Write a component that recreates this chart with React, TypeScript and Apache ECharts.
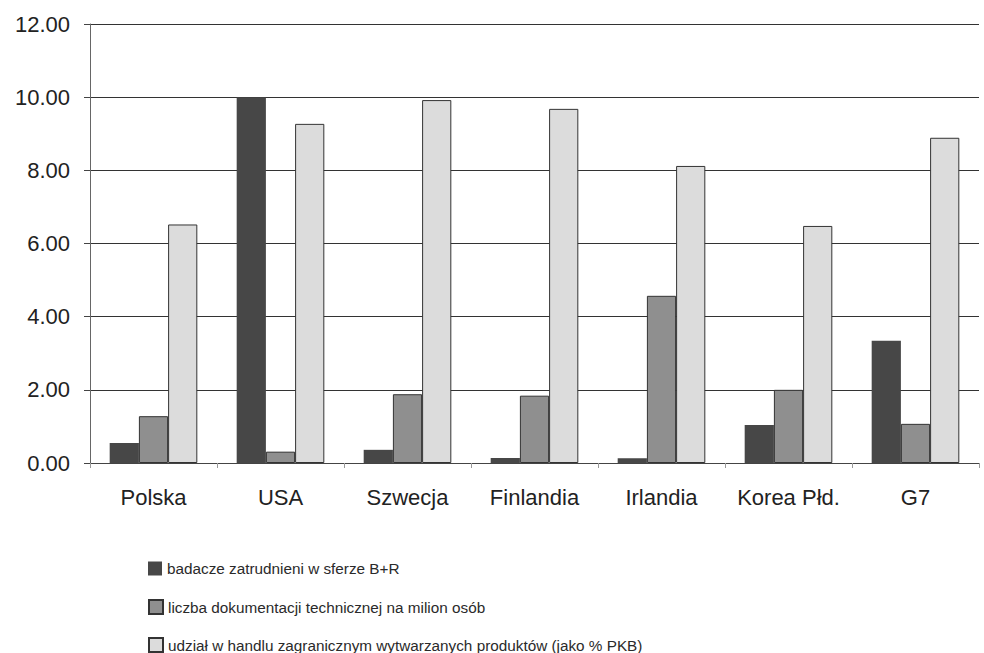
import React, { useEffect, useRef } from "react";
import * as echarts from "echarts";

const categories = ["Polska", "USA", "Szwecja", "Finlandia", "Irlandia", "Korea Płd.", "G7"];
const seriesNames = [
  "badacze zatrudnieni w sferze B+R",
  "liczba dokumentacji technicznej na milion osób",
  "udział w handlu zagranicznym wytwarzanych produktów (jako % PKB)",
];
const researchers = [0.55, 10.0, 0.36, 0.14, 0.13, 1.04, 3.34];
const patents = [1.28, 0.31, 1.88, 1.84, 4.57, 2.0, 1.07];
const tradeShare = [6.52, 9.27, 9.92, 9.68, 8.12, 6.48, 8.89];

export default function App() {
  const ref = useRef<HTMLDivElement>(null);
  useEffect(() => {
    if (!ref.current) return;
    const chart = echarts.init(ref.current, undefined, { renderer: "svg" });
    const font = "'Liberation Sans', Arial, sans-serif";
    const colors = ["#474747", "#8f8f8f", "#dcdcdc"];
    const values = [researchers, patents, tradeShare];
    const legendTops = [556, 594, 632];
    chart.setOption({
      animation: false,
      backgroundColor: "#ffffff",
      grid: { left: 90, right: 5, top: 24, bottom: 190, containLabel: false },
      legend: seriesNames.map((name, i) => ({
        orient: "vertical",
        left: 143,
        top: legendTops[i],
        itemWidth: 14,
        itemHeight: 14,
        icon: "rect",
        textStyle: { fontFamily: font, fontSize: 15.3, color: "#2a2a2a" },
        data: [name],
      })),
      xAxis: {
        type: "category",
        data: categories,
        axisLine: { show: true, lineStyle: { color: "#444", width: 1 } },
        axisTick: { show: true, length: 5, lineStyle: { color: "#999" } },
        axisLabel: { fontFamily: font, fontSize: 22, color: "#222", margin: 23, interval: 0 },
      },
      yAxis: {
        type: "value",
        min: 0,
        max: 12,
        interval: 2,
        axisLine: { show: true, lineStyle: { color: "#666", width: 1 } },
        axisTick: { show: true, length: 6, lineStyle: { color: "#444" } },
        axisLabel: {
          fontFamily: font,
          fontSize: 22,
          color: "#222",
          margin: 20,
          formatter: (v: number) => v.toFixed(2),
        },
        splitLine: { show: true, lineStyle: { color: "#333", width: 1 } },
      },
      series: values.map((data, i) => ({
        name: seriesNames[i],
        type: "bar",
        data,
        barGap: "0%",
        barCategoryGap: "31%",
        itemStyle: { color: colors[i], borderColor: "#333", borderWidth: i === 0 ? 0 : 1 },
      })),
    });
    return () => chart.dispose();
  }, []);
  return (
    <div
      ref={ref}
      style={{ position: "fixed", left: 0, top: 0, width: 984, height: 653 }}
    />
  );
}
